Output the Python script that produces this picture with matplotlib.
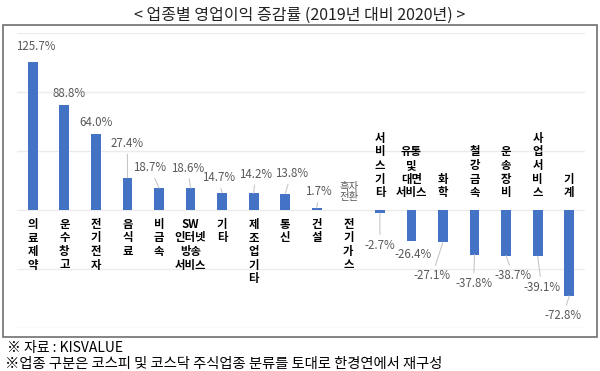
import matplotlib.pyplot as plt
import numpy as np

plt.rcParams['font.family'] = ['Noto Sans CJK KR', 'DejaVu Sans']

# data
industries = ["의료제약", "운수창고", "전기전자", "음식료", "비금속", "SW\n인터넷\n방송\n서비스",
              "기타", "제조업기타", "통신", "건설", "전기가스", "서비스기타", "유통\n및\n대면\n서비스",
              "화학", "철강금속", "운송장비", "사업서비스", "기계"]
growth = [125.7, 88.8, 64.0, 27.4, 18.7, 18.6, 14.7, 14.2, 13.8, 1.7, np.nan,
          -2.7, -26.4, -27.1, -37.8, -38.7, -39.1, -72.8]
special_label = {10: "흑자\n전환"}  # 전기가스: turned to profit

# label offsets from bar end (pixels, x right / y up)
offsets = [(3, 15), (5, 12), (0, 12), (0, 34), (-9, 20), (-3, 20), (-4, 15), (2, 19),
           (6, 20), (2, 16), (1, 18), (0, -32), (2, -13), (-11, -34), (-1, -29),
           (7, -20), (4, -31), (-6, -20)]
leader = [False, False, False, True, True, True, True, True, True, True, False,
          True, False, True, True, True, True, True]

W, H = 600, 371
fig = plt.figure(figsize=(6, 3.71), dpi=100)

# outer border box
fig.patches.append(plt.Rectangle((3 / W, 1 - 337 / H), 594 / W, 312 / H,
                                 transform=fig.transFigure, fill=False,
                                 edgecolor='#6f6f6f', linewidth=1.2))

ax = fig.add_axes([17 / W, 1 - 328 / H, 568 / W, 295 / H])
x = np.arange(len(industries))
vals = np.nan_to_num(np.array(growth))
ax.bar(x, vals, width=0.31, color='#4472C4', zorder=3)

ax.set_xlim(-0.5, len(industries) - 0.5)
ax.set_ylim(-100, 150)
ax.set_yticks([-100, -50, 0, 50, 100, 150])
ax.yaxis.grid(True, color='#ececec', linewidth=1)
ax.set_axisbelow(True)
ax.tick_params(left=False, bottom=False, labelleft=False, labelbottom=False)
for s in ax.spines.values():
    s.set_visible(False)

px = 72 / 100  # pixel -> points
for i, (v, name) in enumerate(zip(growth, industries)):
    dx, dy = offsets[i]
    yv = 0 if np.isnan(v) else v
    if i in special_label:
        txt = special_label[i]
    else:
        txt = f"{v:.1f}%"
    ap = dict(arrowstyle='-', color='#c8c8c8', lw=0.8, shrinkA=1, shrinkB=0) if leader[i] else None
    ax.annotate(txt, xy=(i, yv), xytext=(dx * px, dy * px), textcoords='offset points',
                ha='center', va='center', fontsize=8.3 if i not in special_label else 7.5,
                color='#595959', linespacing=1.0, arrowprops=ap, zorder=4)

    # category label, stacked vertically
    if "\n" in name:
        lab = name
    else:
        lab = "\n".join(name)
    if np.isnan(v) or v >= 0:
        ax.annotate(lab, xy=(i, 0), xytext=(0, -8 * px), textcoords='offset points',
                    ha='center', va='top', fontsize=8.2, fontweight='bold',
                    color='black', linespacing=1.05)
    else:
        ax.annotate(lab, xy=(i, 0), xytext=(0, 11 * px), textcoords='offset points',
                    ha='center', va='bottom', fontsize=8.2, fontweight='bold',
                    color='black', linespacing=1.05)

fig.text(0.5, 1 - 15 / H, "< 업종별 영업이익 증감률 (2019년 대비 2020년) >",
         ha='center', va='center', fontsize=11.5, color='#222222')
fig.text(7 / W, 1 - 348 / H, "※ 자료 : KISVALUE", ha='left', va='center',
         fontsize=10, color='black')
fig.text(5 / W, 1 - 364 / H, "※업종 구분은 코스피 및 코스닥 주식업종 분류를 토대로 한경연에서 재구성",
         ha='left', va='center', fontsize=10.3, color='black')

plt.savefig("out.png", dpi=100)
